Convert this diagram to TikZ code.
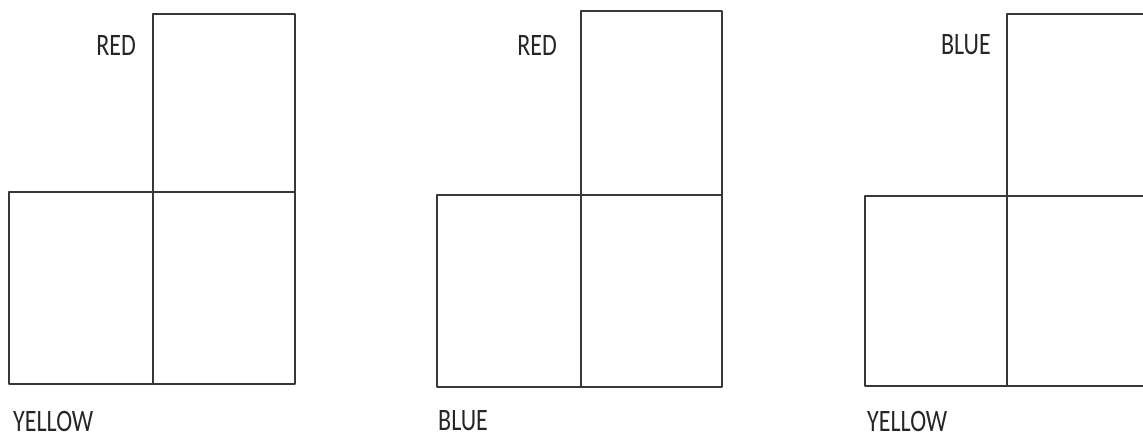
\documentclass[tikz,border=0pt]{standalone}
\usepackage{fontspec}
\setmainfont{Carlito}
\tikzset{
  cellline/.style={line width=2pt, draw=black!78, line join=round, line cap=round},
  clrlabel/.style={font=\fontsize{24}{24}\selectfont, text=black!85, inner sep=0pt, yscale=1.3},
}

\begin{document}
\begin{tikzpicture}[x=1pt,y=-1pt]
\useasboundingbox (0,0) rectangle (1143,437);
\clip (0,0) rectangle (1143,437);

% one L-shaped net of three cells per entry:
% left, middle, right, top, middle, bottom, label pos, top / bottom colour
\foreach \n/\xl/\xm/\xr/\yt/\ym/\yb/\tx/\bx/\topclr/\botclr in
  {a/9/153/295/14/192/384/136/13/RED/YELLOW,
   b/437/581/722/11/195/387/557/438/RED/BLUE,
   c/865/1007/1160/14/196/386/991/867/BLUE/YELLOW}{
  \coordinate (\n-tl) at (\xm,\yt);
  \coordinate (\n-tr) at (\xr,\yt);
  \coordinate (\n-ml) at (\xl,\ym);
  \coordinate (\n-mr) at (\xr,\ym);
  \coordinate (\n-bl) at (\xl,\yb);
  \coordinate (\n-bm) at (\xm,\yb);
  \coordinate (\n-br) at (\xr,\yb);

  % top cell, bottom row of two cells
  \draw[cellline] (\n-tl) -- (\n-tr) -- (\n-mr);
  \draw[cellline] (\n-ml) rectangle (\n-br);
  \draw[cellline] (\n-tl) -- (\n-bm);

  \node[clrlabel, anchor=east] (\n-top) at (\tx,45) {\topclr};
  \node[clrlabel, anchor=west] (\n-bot) at (\bx,421) {\botclr};
}
\end{tikzpicture}
\end{document}
